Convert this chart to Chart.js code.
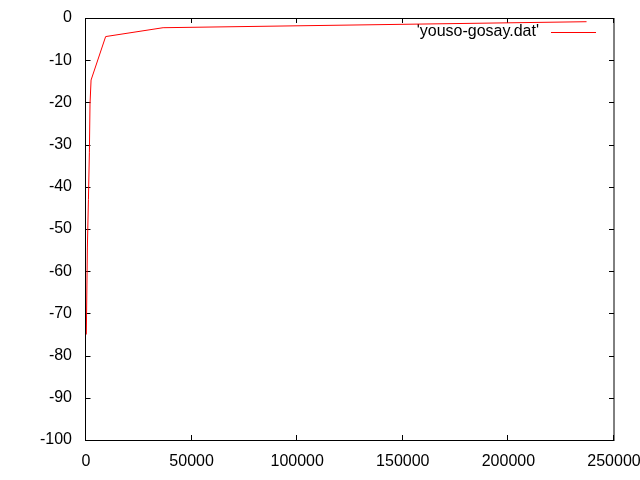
<!DOCTYPE html>
<html>
<head>
<meta charset="utf-8">
<script src="https://cdn.jsdelivr.net/npm/chart.js@4"></script>
<style>
  html, body { margin: 0; padding: 0; background: #fff; }
  #wrap { width: 640px; height: 480px; }
</style>
</head>
<body>
<div id="wrap"><canvas id="plot" width="640" height="480"></canvas></div>
<script>
// datos
const seriesName = "'youso-gosay.dat'";
const xValues = [150, 650, 1150, 1600, 1900, 2400, 9300, 36500, 237000];
const yValues = [-75, -54.5, -43, -31.8, -20.4, -14.7, -4.4, -2.3, -0.88];
const xTicks = [0, 50000, 100000, 150000, 200000, 250000];
const yTicks = [-100, -90, -80, -70, -60, -50, -40, -30, -20, -10, 0];

const points = xValues.map((x, i) => ({ x: x, y: yValues[i] }));

// marco y marcas hacia dentro, estilo gnuplot (debajo de la linea)
const gnuplotFrame = {
    id: 'gnuplotFrame',
    beforeDatasetsDraw(chart) {
        const ctx = chart.ctx;
        const a = chart.chartArea;
        const sx = chart.scales.x;
        const sy = chart.scales.y;
        const len = 5;
        const left = Math.round(a.left) - 0.5;
        ctx.save();
        ctx.strokeStyle = '#000';
        ctx.lineWidth = 1;
        ctx.beginPath();
        xTicks.forEach(v => {
            const px = Math.round(sx.getPixelForValue(v)) - 0.5;
            ctx.moveTo(px, a.bottom); ctx.lineTo(px, a.bottom - len);
            ctx.moveTo(px, a.top); ctx.lineTo(px, a.top + len);
        });
        yTicks.forEach(v => {
            const py = Math.round(sy.getPixelForValue(v)) + 0.5;
            ctx.moveTo(left, py); ctx.lineTo(left + len, py);
            ctx.moveTo(a.right, py); ctx.lineTo(a.right - len, py);
        });
        ctx.stroke();
        ctx.strokeRect(left, Math.round(a.top) + 0.5,
            Math.round(a.right) - left, Math.round(a.bottom - a.top));

        // leyenda
        const ds = chart.data.datasets[0];
        const ly = a.top + 14;
        ctx.font = '16px "Liberation Sans", Arial, sans-serif';
        ctx.fillStyle = '#000';
        ctx.textAlign = 'right';
        ctx.textBaseline = 'middle';
        ctx.fillText(ds.label, a.right - 75, ly);
        ctx.strokeStyle = ds.borderColor;
        ctx.beginPath();
        ctx.moveTo(a.right - 63, ly + 0.5);
        ctx.lineTo(a.right - 18, ly + 0.5);
        ctx.stroke();
        ctx.restore();
    }
};

const ctxPlot = document.getElementById('plot').getContext('2d');
const chart = new Chart(ctxPlot, {
    type: 'scatter',
    data: {
        datasets: [{
            label: seriesName,
            data: points,
            showLine: true,
            borderColor: '#ff0000',
            backgroundColor: '#ff0000',
            borderWidth: 1,
            pointRadius: 0,
            tension: 0
        }]
    },
    options: {
        responsive: false,
        animation: false,
        layout: { padding: { left: 0, top: 18, right: 26, bottom: 0 } },
        plugins: {
            legend: { display: false },
            tooltip: { enabled: false }
        },
        scales: {
            x: {
                type: 'linear',
                min: 0,
                max: 250000,
                afterBuildTicks: s => { s.ticks = xTicks.map(v => ({ value: v })); },
                afterFit: s => { s.height = 40; s.paddingLeft = 0; s.paddingRight = 0; },
                grid: { display: false, drawTicks: false },
                border: { display: false },
                ticks: {
                    color: '#000',
                    padding: 12,
                    maxRotation: 0,
                    autoSkip: false,
                    font: { family: '"Liberation Sans", Arial, sans-serif', size: 16 },
                    callback: v => String(v)
                }
            },
            y: {
                type: 'linear',
                min: -100,
                max: 0,
                afterBuildTicks: s => { s.ticks = yTicks.map(v => ({ value: v })); },
                afterFit: s => { s.width = 86; s.paddingTop = 0; s.paddingBottom = 0; },
                grid: { display: false, drawTicks: false },
                border: { display: false },
                ticks: {
                    color: '#000',
                    padding: 14,
                    autoSkip: false,
                    font: { family: '"Liberation Sans", Arial, sans-serif', size: 16 },
                    callback: v => String(v)
                }
            }
        }
    },
    plugins: [gnuplotFrame]
});
</script>
</body>
</html>
